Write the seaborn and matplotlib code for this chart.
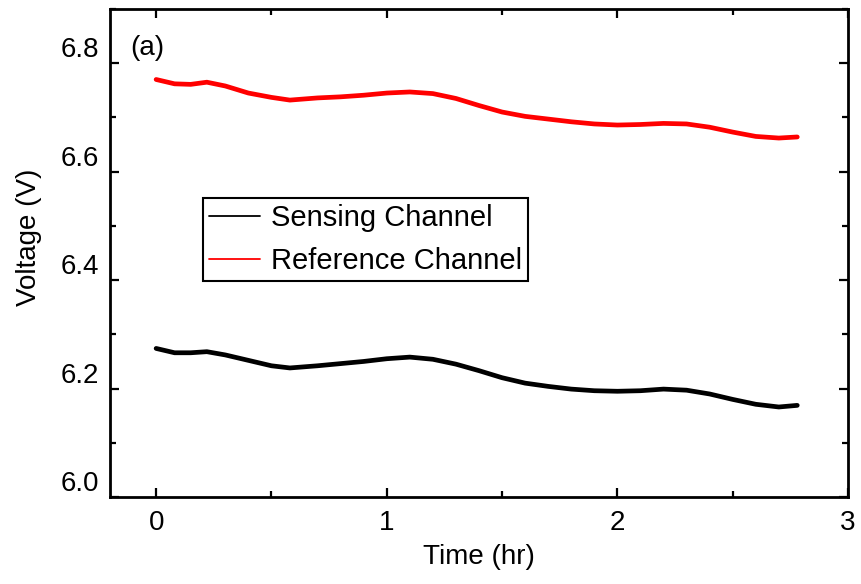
import numpy as np
import pandas as pd
import seaborn as sns
import matplotlib
matplotlib.use('Agg')
import matplotlib.pyplot as plt
from matplotlib.ticker import MultipleLocator
from matplotlib.transforms import ScaledTranslation

# Values
time_hr = [0.0, 0.08, 0.15, 0.22, 0.3, 0.4, 0.5, 0.58, 0.7, 0.8, 0.9, 1.0, 1.1, 1.2,
           1.3, 1.4, 1.5, 1.6, 1.7, 1.8, 1.9, 2.0, 2.1, 2.2, 2.3, 2.4, 2.5, 2.6, 2.7, 2.78]
reference_v = [6.770, 6.762, 6.761, 6.765, 6.758, 6.745, 6.737, 6.732, 6.736, 6.738,
               6.741, 6.745, 6.747, 6.744, 6.735, 6.722, 6.710, 6.702, 6.697, 6.692,
               6.688, 6.686, 6.687, 6.689, 6.688, 6.682, 6.673, 6.665, 6.662, 6.664]
sensing_v = [6.274, 6.266, 6.266, 6.268, 6.262, 6.252, 6.242, 6.238, 6.242, 6.246,
             6.250, 6.255, 6.258, 6.254, 6.245, 6.233, 6.220, 6.210, 6.204, 6.199,
             6.196, 6.195, 6.196, 6.199, 6.197, 6.190, 6.180, 6.171, 6.166, 6.169]
channels = ['Sensing Channel', 'Reference Channel']
colors = {'Sensing Channel': 'black', 'Reference Channel': 'red'}

data = pd.concat([
    pd.DataFrame({'Time': time_hr, 'Voltage': sensing_v, 'Channel': channels[0]}),
    pd.DataFrame({'Time': time_hr, 'Voltage': reference_v, 'Channel': channels[1]}),
])

sns.set_theme(style='ticks')
plt.rcParams['font.family'] = ['Liberation Sans', 'DejaVu Sans']
plt.rcParams['text.color'] = 'black'
plt.rcParams['axes.labelcolor'] = 'black'
plt.rcParams['xtick.color'] = 'black'
plt.rcParams['ytick.color'] = 'black'

fig = plt.figure(figsize=(8.61, 5.84), dpi=100)
ax = fig.add_axes([110 / 861, 1 - 497 / 584, (848 - 110) / 861, (497 - 9) / 584])

sns.lineplot(data=data, x='Time', y='Voltage', hue='Channel', hue_order=channels,
             palette=colors, linewidth=3.4, ax=ax)

ax.set_xlim(-0.2, 3.0)
ax.set_ylim(6.0, 6.9)
ax.xaxis.set_major_locator(MultipleLocator(1))
ax.xaxis.set_minor_locator(MultipleLocator(0.5))
ax.yaxis.set_minor_locator(MultipleLocator(0.1))
ax.set_yticks([6.0, 6.2, 6.4, 6.6, 6.8])

for s in ax.spines.values():
    s.set_linewidth(2)
    s.set_color('black')
ax.tick_params(which='both', direction='in', top=True, right=True, width=1.6,
               colors='black', labelcolor='black')
ax.tick_params(which='major', length=6.5)
ax.tick_params(which='minor', length=4)
ax.tick_params(axis='x', labelsize=20, pad=9)
ax.tick_params(axis='y', labelsize=20, pad=8)

# y tick labels in the reference sit a bit above their ticks
shift = ScaledTranslation(0, 16 / 100, fig.dpi_scale_trans)
for lab in ax.get_yticklabels():
    lab.set_transform(lab.get_transform() + shift)

ax.set_xlabel('Time (hr)', fontsize=20, labelpad=6, color='black')
ax.set_ylabel('Voltage (V)', fontsize=20, color='black')
ax.yaxis.set_label_coords(-0.092, 0.533)

ax.text(0.027, 0.92, '(a)', transform=ax.transAxes, fontsize=20, va='center',
        ha='left', color='black')

leg = ax.legend(loc='upper left', bbox_to_anchor=(93 / 738, 1 - 189 / 488), fontsize=21,
                frameon=True, fancybox=False, framealpha=1, edgecolor='black',
                handlelength=1.75, handletextpad=0.35, borderpad=0.22, labelspacing=0.5,
                borderaxespad=0)
leg.get_frame().set_linewidth(1.5)
for h in leg.get_lines():
    h.set_linewidth(1.3)
for t in leg.get_texts():
    t.set_color('black')

fig.savefig('out.png', dpi=100)
